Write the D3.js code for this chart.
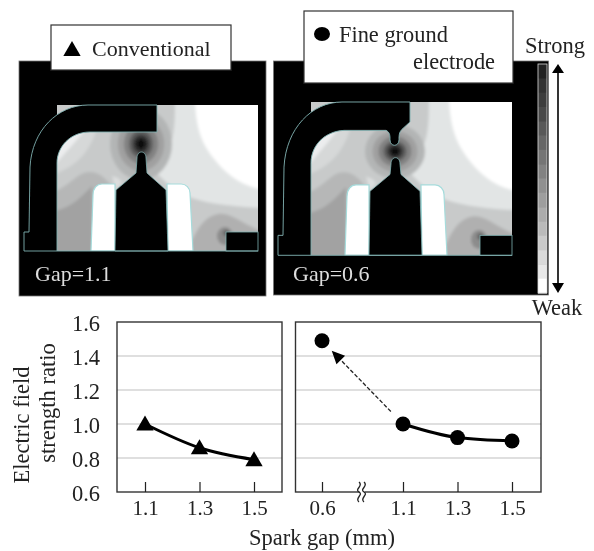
<!DOCTYPE html>
<html>
<head>
<meta charset="utf-8">
<script src="https://cdn.jsdelivr.net/npm/d3@7"></script>
<style>
  html, body { margin: 0; background: #fff; }
  svg { display: block; }
  text { font-family: "Liberation Serif", serif; fill: #222; }
  .domain { display: none; }
</style>
</head>
<body>
<div id="chart"></div>
<script>
const gapConventional = [1.1, 1.3, 1.5];
const ratioConventional = [1.0, 0.86, 0.79];
const gapFine = [0.6, 1.1, 1.3, 1.5];
const ratioFine = [1.49, 1.0, 0.92, 0.90];
const yTicks = [0.6, 0.8, 1.0, 1.2, 1.4, 1.6];
const legendBarGreys = ["#222", "#333", "#3c3c3c", "#4a4a4a", "#585858", "#666", "#747474", "#828282",
  "#909090", "#9e9e9e", "#acacac", "#bababa", "#cacaca", "#dadada", "#e8e8e8", "#fff"];

const width = 594;
const height = 551;

const svg = d3.select("#chart").append("svg")
  .attr("width", width)
  .attr("height", height);

const defs = svg.append("defs");
defs.append("filter").attr("id", "soft").append("feGaussianBlur").attr("stdDeviation", 0.4);
defs.append("filter").attr("id", "contour").append("feGaussianBlur").attr("stdDeviation", 1.6);
defs.append("clipPath").attr("id", "chamber").append("rect")
  .attr("x", 57).attr("y", 105).attr("width", 201).attr("height", 146);

const page = svg.append("g").attr("filter", "url(#soft)");

// simulation pictures, drawn in one local frame and shifted for the second panel
const armPlain = "M24,251V232H29L30,167C32,130 58,105 88,105H157V132H90C70,132 57,147 57,163V251Z";
const armFine = "M24,251V232H29L30,167C32,130 58,105 88,105H156V124L148,131C145,134 145,137 145,141C145,148 136,148 136,141C136,137 136,134 132,132H90C70,133 57,147 57,163V251Z";
const centerPlain = "M115,251L116,190L136,173L137,158C137,150 146,150 146,158L147,173L166,190L168,251Z";
const centerFine = "M115,251L116,190L136,174L137,164C137,156 146,156 146,164L147,174L166,190L168,251Z";

function drawField(g, arm, center, cy, spread) {
  const field = g.append("g").attr("clip-path", "url(#chamber)");
  const soft = field.append("g").attr("filter", "url(#contour)");

  soft.append("rect").attr("x", 40).attr("y", 90).attr("width", 230).attr("height", 175).attr("fill", "#c8caca");
  // left channel, light at the top and darker downwards
  soft.append("path").attr("fill", "#d6d8d8").attr("d", "M50,176C70,168 88,160 98,125H50Z");
  soft.append("path").attr("fill", "#ecedee").attr("d", "M56,164C64,154 72,146 85,130H56Z");
  soft.append("path").attr("fill", "#b6b7b7").attr("d", "M50,193C72,186 76,172 90,172C102,172 110,184 115,190V260H50Z");
  soft.append("path").attr("fill", "#a2a2a2").attr("d", "M50,212C72,208 80,198 92,186V260H50Z");
  // light bands on the open side
  soft.append("path").attr("fill", "#e2e5e5").attr("d", "M175,100C175,130 174,150 158,160L150,167L168,184L192,198C210,204 235,207 265,208V100Z");
  soft.append("path").attr("fill", "#fff").attr("d", "M195,100C196,135 205,150 222,168C232,178 245,187 265,190V100Z");
  soft.append("path").attr("fill", "#dcdede").attr("d", "M116,190L112,176L118,178L122,182Z");
  // ground block corner
  soft.append("path").attr("fill", "#b0b0b0").attr("d", "M190,245C198,226 206,216 218,214C232,212 244,226 265,232V260H190Z");
  soft.append("ellipse").attr("cx", 225).attr("cy", 236).attr("rx", 8).attr("ry", 9).attr("fill", "#8c8c8c");
  soft.append("ellipse").attr("cx", 226).attr("cy", 233).attr("rx", 3).attr("ry", 3).attr("fill", "#666");
  // field around the gap
  const rings = [[1, "#b3b5b5"], [0.75, "#a0a0a0"], [0.55, "#828282"], [0.38, "#5c5c5c"], [0.26, "#333"], [0.15, "#0c0c0c"]];
  rings.forEach(r => {
    soft.append("ellipse").attr("cx", 141).attr("cy", cy)
      .attr("rx", spread[0] * r[0]).attr("ry", spread[1] * r[0]).attr("fill", r[1]);
  });

  // insulator
  [ "M91,251L93,195C93,188 97,184 102,184H115V251Z", "M168,251L167,184H181C186,184 190,188 190,193L193,251Z" ].forEach(d => {
    field.append("path").attr("d", d).attr("fill", "#fff").attr("stroke", "#a6dcdc").attr("stroke-width", 1.2);
  });

  g.append("path").attr("d", arm).attr("fill", "#000").attr("stroke", "#7fb0b0").attr("stroke-width", 0.9);
  g.append("path").attr("d", center).attr("fill", "#000").attr("stroke", "#7fb0b0").attr("stroke-width", 0.8);
  g.append("rect").attr("x", 226).attr("y", 232).attr("width", 32).attr("height", 19)
    .attr("fill", "#000").attr("stroke", "#7fb0b0").attr("stroke-width", 0.8);
  g.append("line").attr("x1", 57).attr("x2", 258).attr("y1", 251).attr("y2", 251)
    .attr("stroke", "#7fb0b0").attr("stroke-width", 0.9);
}

page.append("rect").attr("x", 19).attr("y", 61).attr("width", 247).attr("height", 235)
  .attr("fill", "#000").attr("stroke", "#777").attr("stroke-width", 0.8);
page.append("rect").attr("x", 273.5).attr("y", 61).attr("width", 275).attr("height", 234)
  .attr("fill", "#000").attr("stroke", "#777").attr("stroke-width", 0.8);

drawField(page.append("g"), armPlain, centerPlain, 144, [31, 36]);
drawField(page.append("g").attr("transform", "translate(254,-8.25) scale(1,1.05)"), armFine, centerFine, 152, [30, 26]);

page.append("text").attr("x", 35).attr("y", 281).attr("font-size", 22).style("fill", "#ddd").text("Gap=1.1");
page.append("text").attr("x", 293).attr("y", 281).attr("font-size", 22).style("fill", "#ddd").text("Gap=0.6");

// strength bar next to the right picture
const barScale = d3.scaleBand().domain(d3.range(legendBarGreys.length)).range([64, 293]);
page.append("g").selectAll("rect").data(legendBarGreys).join("rect")
  .attr("x", 538).attr("width", 9)
  .attr("y", (d, i) => barScale(i))
  .attr("height", barScale.bandwidth() + 0.5)
  .attr("fill", d => d);
page.append("rect").attr("x", 538).attr("y", 64).attr("width", 9).attr("height", 229)
  .attr("fill", "none").attr("stroke", "#ddd").attr("stroke-width", 0.8);

page.append("line").attr("x1", 558).attr("x2", 558).attr("y1", 72).attr("y2", 285)
  .attr("stroke", "#000").attr("stroke-width", 1.6);
page.append("path").attr("fill", "#000").attr("d", "M558,64L564,73H552Z");
page.append("path").attr("fill", "#000").attr("d", "M558,293L552,283H564Z");
page.append("text").attr("x", 555).attr("y", 53).attr("font-size", 22.5).attr("text-anchor", "middle").text("Strong");
page.append("text").attr("x", 557).attr("y", 315).attr("font-size", 22.5).attr("text-anchor", "middle").text("Weak");

// legend boxes
page.append("rect").attr("x", 51).attr("y", 25).attr("width", 180).attr("height", 45)
  .attr("fill", "#fff").attr("stroke", "#333").attr("stroke-width", 1.2);
page.append("path").attr("fill", "#000").attr("transform", "translate(72,51)")
  .attr("d", d3.symbol(d3.symbolTriangle, 130)());
page.append("text").attr("x", 92).attr("y", 56).attr("font-size", 22).text("Conventional");

page.append("rect").attr("x", 304).attr("y", 11).attr("width", 209).attr("height", 72)
  .attr("fill", "#fff").attr("stroke", "#333").attr("stroke-width", 1.2);
page.append("ellipse").attr("cx", 322).attr("cy", 34).attr("rx", 8).attr("ry", 7).attr("fill", "#000");
page.append("text").attr("x", 339).attr("y", 42).attr("font-size", 22.4).text("Fine ground");
page.append("text").attr("x", 413).attr("y", 69).attr("font-size", 22.4).text("electrode");

// line charts
const plotTop = 322;
const plotBottom = 492;
const y = d3.scaleLinear().domain([0.6, 1.6]).range([plotBottom, plotTop]);
const xLeft = d3.scaleLinear().domain([1.1, 1.5]).range([145, 254]);
// the right axis is broken between 0.6 and 1.1
const xRight = d3.scaleLinear().domain(gapFine).range([322, 403, 457.5, 512]);

function drawPlot(x0, x1, x, ticks) {
  const g = page.append("g");
  g.selectAll("line.grid").data(yTicks.slice(1, -1)).join("line")
    .attr("class", "grid")
    .attr("x1", x0).attr("x2", x1)
    .attr("y1", d => y(d)).attr("y2", d => y(d))
    .attr("stroke", "#d4d4d4").attr("stroke-width", 1.5);
  g.append("rect").attr("x", x0).attr("y", plotTop).attr("width", x1 - x0).attr("height", plotBottom - plotTop)
    .attr("fill", "none").attr("stroke", "#333").attr("stroke-width", 1.4);
  const axis = g.append("g").attr("transform", `translate(0,${plotBottom})`)
    .call(d3.axisBottom(x).tickValues(ticks).tickFormat(d3.format(".1f")).tickSizeInner(-10).tickSizeOuter(0).tickPadding(8));
  axis.selectAll("line").attr("stroke", "#222").attr("stroke-width", 1.2);
  axis.selectAll("text").attr("font-size", 21).attr("font-family", "Liberation Serif").style("fill", "#222");
  return g;
}

const left = drawPlot(117, 282, xLeft, gapConventional);
const right = drawPlot(295.5, 541, xRight, gapFine);

const yAxis = page.append("g").attr("transform", "translate(117,0)")
  .call(d3.axisLeft(y).tickValues(yTicks).tickFormat(d3.format(".1f")).tickSize(0).tickPadding(17));
yAxis.selectAll("text").attr("font-size", 22.5).attr("font-family", "Liberation Serif").attr("dy", "0.38em").style("fill", "#222");

const conventionalPoints = gapConventional.map((g, i) => [xLeft(g), y(ratioConventional[i])]);
left.append("path")
  .attr("d", d3.line().curve(d3.curveMonotoneX)(conventionalPoints))
  .attr("fill", "none").attr("stroke", "#000").attr("stroke-width", 3);
left.selectAll("path.mark").data(conventionalPoints).join("path")
  .attr("class", "mark")
  .attr("transform", d => `translate(${d[0]},${d[1] + 1.5})`)
  .attr("d", d3.symbol(d3.symbolTriangle, 130)())
  .attr("fill", "#000");

const finePoints = gapFine.map((g, i) => [xRight(g), y(ratioFine[i])]);
right.append("path")
  .attr("d", d3.line().curve(d3.curveMonotoneX)(finePoints.slice(1)))
  .attr("fill", "none").attr("stroke", "#000").attr("stroke-width", 3);
right.selectAll("circle").data(finePoints).join("circle")
  .attr("cx", d => d[0]).attr("cy", d => d[1]).attr("r", 7.5).attr("fill", "#000");

// dashed arrow from the 1.1 point up to the 0.6 point
const arrowX = d3.interpolateNumber(finePoints[1][0], finePoints[0][0]);
const arrowY = d3.interpolateNumber(finePoints[1][1], finePoints[0][1]);
const arrowStart = [arrowX(0.15), arrowY(0.15)];
const arrowEnd = [arrowX(0.8), arrowY(0.8)];
const arrowTip = [arrowX(0.88), arrowY(0.88)];
right.append("line")
  .attr("x1", arrowStart[0]).attr("y1", arrowStart[1])
  .attr("x2", arrowEnd[0]).attr("y2", arrowEnd[1])
  .attr("stroke", "#222").attr("stroke-width", 1.3).attr("stroke-dasharray", "4 2");
const arrowAngle = Math.atan2(arrowTip[1] - arrowEnd[1], arrowTip[0] - arrowEnd[0]) * 180 / Math.PI;
right.append("path")
  .attr("transform", `translate(${arrowTip[0]},${arrowTip[1]}) rotate(${arrowAngle})`)
  .attr("d", "M0,0L-13,-6L-13,6Z")
  .attr("fill", "#000");

// axis break mark
const breakX = (xRight(0.6) + xRight(1.1)) / 2 - 1;
const breakMark = right.append("g").attr("transform", `translate(${breakX},${plotBottom})`);
breakMark.append("rect").attr("x", -2).attr("y", -3).attr("width", 5).attr("height", 6).attr("fill", "#fff");
[-2.5, 2.5].forEach(dx => {
  breakMark.append("path")
    .attr("d", `M${dx},-10C${dx + 5},-6 ${dx - 5},-3 ${dx},0C${dx + 5},3 ${dx - 5},6 ${dx},10`)
    .attr("fill", "none").attr("stroke", "#222").attr("stroke-width", 1.3);
});

page.append("text").attr("x", 322).attr("y", 545).attr("font-size", 22.5).attr("text-anchor", "middle").text("Spark gap (mm)");
page.append("text").attr("transform", "translate(29,425) rotate(-90)").attr("font-size", 22.5).attr("text-anchor", "middle").text("Electric field");
page.append("text").attr("transform", "translate(55,403) rotate(-90)").attr("font-size", 22.5).attr("text-anchor", "middle").text("strength ratio");
</script>
</body>
</html>
